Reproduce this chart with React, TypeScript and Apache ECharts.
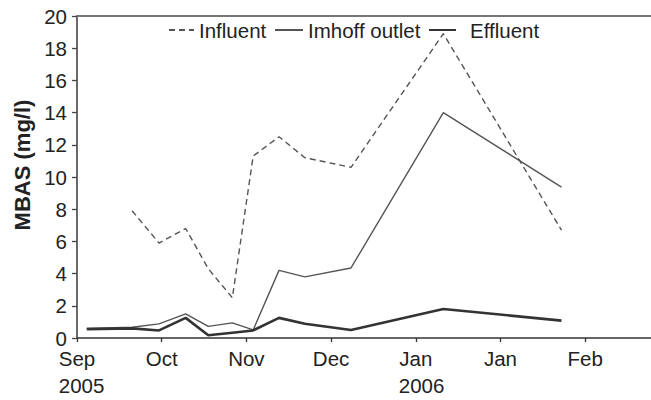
import React, { useEffect, useRef } from "react";
import * as echarts from "echarts";

// Sampling dates, in months since 1 Sep 2005
const sampleMonths = [0.115, 0.65, 0.968, 1.283, 1.55, 1.834, 2.08, 2.385, 2.69, 3.235, 4.325, 5.72];
const influent = [null, 7.9, 5.9, 6.8, 4.3, 2.5, 11.3, 12.5, 11.2, 10.6, 18.9, 6.7];
const imhoffOutlet = [0.6, 0.67, 0.88, 1.5, 0.72, 0.94, 0.5, 4.2, 3.8, 4.35, 14.0, 9.37];
const effluent = [0.55, 0.6, 0.47, 1.25, 0.17, 0.33, 0.47, 1.25, 0.88, 0.5, 1.8, 1.08];

const monthLabels = ["Sep", "Oct", "Nov", "Dec", "Jan", "Jan", "Feb"];
const yearLabels = ["2005", "", "", "", "2006", "", ""];
const yTicks = [0, 2, 4, 6, 8, 10, 12, 14, 16, 18, 20];

const FONT = '"Liberation Sans", Arial, Helvetica, sans-serif';
const FS = 20.5;

function pairs(values: (number | null)[]) {
  const out: [number, number][] = [];
  values.forEach((v, i) => {
    if (v !== null) out.push([sampleMonths[i], v]);
  });
  return out;
}

export default function App() {
  const ref = useRef<HTMLDivElement>(null);
  useEffect(() => {
    if (!ref.current) return;
    const chart = echarts.init(ref.current, null, { renderer: "svg" });
    const legendText = { fontSize: FS, fontFamily: FONT, color: "#222", lineHeight: 24 };
    const legendCommon = {
      top: 18,
      padding: 0,
      itemHeight: 14,
      itemStyle: { opacity: 0 },
    };
    chart.setOption({
      animation: false,
      backgroundColor: "#fff",
      grid: { left: 77, right: 0, top: 16, bottom: 59, containLabel: false },
      legend: [
        { ...legendCommon, left: 168, data: ["Influent"], itemWidth: 25, textStyle: legendText },
        { ...legendCommon, left: 274, data: ["Imhoff outlet"], itemWidth: 28, textStyle: legendText },
        {
          ...legendCommon,
          left: 428,
          data: ["Effluent"],
          itemWidth: 27,
          textStyle: { ...legendText, padding: [0, 0, 0, 9] },
        },
      ],
      xAxis: [
        {
          type: "value",
          min: 0,
          max: 6.777,
          interval: 1,
          splitLine: { show: false },
          axisLine: { show: true, lineStyle: { color: "#333", width: 1.6 } },
          axisTick: { show: true, inside: false, length: 4, lineStyle: { color: "#333", width: 1.3 } },
          axisLabel: {
            margin: 8,
            showMaxLabel: false,
            fontSize: FS,
            fontFamily: FONT,
            color: "#222",
            lineHeight: 24,
            formatter: (v: number) => {
              const i = Math.round(v);
              const m = monthLabels[i] ?? "";
              const y = yearLabels[i] ?? "";
              return y ? `{m|${m}}\n{y|${y}}` : `{m|${m}}`;
            },
            rich: {
              m: { fontSize: FS, fontFamily: FONT, color: "#222", lineHeight: 24, align: "center" },
              y: { fontSize: FS, fontFamily: FONT, color: "#222", lineHeight: 30, align: "left", width: 34 },
            },
          },
        },
        {
          type: "value",
          position: "top",
          min: 0,
          max: 6.777,
          interval: 1,
          splitLine: { show: false },
          axisLine: { show: true, lineStyle: { color: "#777", width: 2 } },
          axisTick: { show: false },
          axisLabel: { show: false },
        },
      ],
      yAxis: {
        type: "value",
        min: yTicks[0],
        max: yTicks[yTicks.length - 1],
        interval: 2,
        splitLine: { show: false },
        axisLine: { show: true, lineStyle: { color: "#444", width: 1.6 } },
        axisTick: { show: true, inside: false, length: 5, lineStyle: { color: "#444", width: 1.3 } },
        axisLabel: { margin: 10, fontSize: FS, fontFamily: FONT, color: "#222", lineHeight: 14 },
      },
      graphic: [
        {
          type: "text",
          x: 22,
          y: 165,
          rotation: Math.PI / 2,
          style: {
            text: "MBAS (mg/l)",
            font: `bold 22px ${FONT}`,
            fill: "#222",
            align: "center",
            verticalAlign: "middle",
          },
        },
      ],
      series: [
        {
          name: "Influent",
          type: "line",
          symbol: "none",
          data: pairs(influent),
          lineStyle: { color: "#555", width: 1.4, type: [6, 4] },
          itemStyle: { color: "#555" },
        },
        {
          name: "Imhoff outlet",
          type: "line",
          symbol: "none",
          data: pairs(imhoffOutlet),
          lineStyle: { color: "#555", width: 1.4 },
          itemStyle: { color: "#555" },
        },
        {
          name: "Effluent",
          type: "line",
          symbol: "none",
          data: pairs(effluent),
          lineStyle: { color: "#333", width: 2.6 },
          itemStyle: { color: "#333" },
        },
      ],
    });
    return () => chart.dispose();
  }, []);
  return (
    <div
      ref={ref}
      style={{ position: "absolute", left: 0, top: 0, width: 651, height: 400 }}
    />
  );
}
